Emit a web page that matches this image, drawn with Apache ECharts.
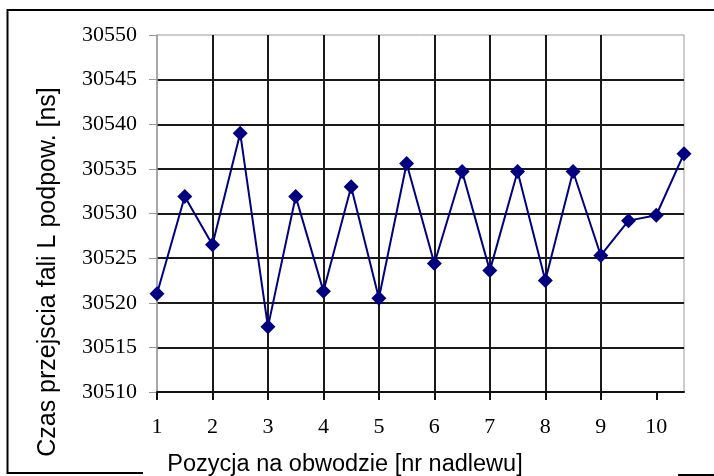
<!DOCTYPE html>
<html>
<head>
<meta charset="utf-8">
<script src="https://cdn.jsdelivr.net/npm/echarts@6/dist/echarts.min.js"></script>
<style>
  html, body { margin: 0; padding: 0; background: #fff; }
  #chart { width: 714px; height: 476px; }
</style>
</head>
<body>
<div id="chart"></div>
<script>
// Measurement positions around the circumference (riser number)
const positions = [1, 1.5, 2, 2.5, 3, 3.5, 4, 4.5, 5, 5.5, 6, 6.5, 7, 7.5, 8, 8.5, 9, 9.5, 10, 10.5];
// Surface-wave transit time [ns]
const transitTimes = [30521.0, 30531.9, 30526.5, 30539.0, 30517.3, 30531.9, 30521.3, 30533.0, 30520.5, 30535.6,
                      30524.4, 30534.7, 30523.6, 30534.7, 30522.5, 30534.7, 30525.3, 30529.2, 30529.8, 30536.7];
// Axis tick labels
const xTickLabels = [1, 2, 3, 4, 5, 6, 7, 8, 9, 10];
const yTickLabels = [30510, 30515, 30520, 30525, 30530, 30535, 30540, 30545, 30550];

const xTitle = 'Pozycja na obwodzie [nr nadlewu]';
const yTitle = 'Czas przejscia fali L podpow. [ns]';

const chart = echarts.init(document.getElementById('chart'), null, { renderer: 'canvas' });

const serif = '"Liberation Serif", "Times New Roman", serif';
const sans = '"Liberation Sans", Arial, sans-serif';

chart.setOption({
  animation: false,
  backgroundColor: '#fff',
  grid: {
    left: 157, right: 30, top: 35, bottom: 84,
    show: true, borderColor: '#9a9a9a', borderWidth: 1, backgroundColor: 'transparent'
  },
  xAxis: {
    type: 'value',
    min: xTickLabels[0],
    max: positions[positions.length - 1],
    interval: 1,
    axisLine: { show: true, onZero: false, lineStyle: { color: '#111', width: 2 } },
    axisTick: { show: true, inside: false, length: 8, customValues: xTickLabels, lineStyle: { color: '#111', width: 2 } },
    axisLabel: {
      margin: 24, color: '#000', fontFamily: serif, fontSize: 22,
      customValues: xTickLabels,
      formatter: v => String(v)
    },
    splitLine: { show: true, showMinLine: false, showMaxLine: false, lineStyle: { color: '#1a1a1a', width: 2 } }
  },
  yAxis: {
    type: 'value',
    min: yTickLabels[0],
    max: yTickLabels[yTickLabels.length - 1],
    interval: 5,
    axisLine: { show: true, lineStyle: { color: '#9a9a9a', width: 1.5 } },
    axisTick: { show: true, inside: false, length: 8, lineStyle: { color: '#9a9a9a', width: 1 } },
    axisLabel: { margin: 20, color: '#000', fontFamily: serif, fontSize: 22, formatter: v => String(v) },
    splitLine: { show: true, showMinLine: false, showMaxLine: false, lineStyle: { color: '#1a1a1a', width: 2 } }
  },
  series: [{
    type: 'line',
    data: positions.map((p, i) => [p, transitTimes[i]]),
    symbol: 'diamond',
    symbolSize: 15,
    showAllSymbol: true,
    lineStyle: { color: '#000080', width: 2 },
    itemStyle: { color: '#000080' },
    z: 5
  }],
  graphic: [
    // chart frame (bottom edge interrupted by the x-axis title)
    { type: 'polyline', shape: { points: [[143, 473], [7.5, 473], [7.5, 10], [720, 10]] },
      style: { stroke: '#000', lineWidth: 2, fill: null } },
    { type: 'line', shape: { x1: 678, y1: 475, x2: 720, y2: 475 },
      style: { stroke: '#000', lineWidth: 2 } },
    { type: 'text', x: 345, y: 465,
      style: { text: xTitle, font: '23.5px ' + sans, fill: '#000', align: 'center', verticalAlign: 'middle' } },
    { type: 'text', x: 48, y: 272, rotation: Math.PI / 2,
      style: { text: yTitle, font: '25px ' + sans, fill: '#000', align: 'center', verticalAlign: 'middle' } }
  ]
});
</script>
</body>
</html>
